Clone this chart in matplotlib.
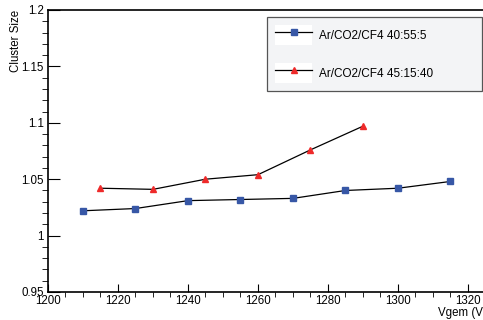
import matplotlib
matplotlib.use("Agg")
import matplotlib.pyplot as plt
from matplotlib.patches import Rectangle
from matplotlib.legend_handler import HandlerTuple
from matplotlib.lines import Line2D
from matplotlib.ticker import MultipleLocator

plt.rcParams["font.family"] = ["Liberation Sans", "DejaVu Sans"]

# Dades llegides del gràfic
v_a = [1210, 1225, 1240, 1255, 1270, 1285, 1300, 1315]
cs_a = [1.022, 1.024, 1.031, 1.032, 1.033, 1.040, 1.042, 1.048]
v_b = [1215, 1230, 1245, 1260, 1275, 1290]
cs_b = [1.042, 1.041, 1.050, 1.054, 1.076, 1.097]
noms = ["Ar/CO2/CF4 40:55:5", "Ar/CO2/CF4 45:15:40"]

blau = "#3757a6"
vermell = "#ee2a2a"

fig = plt.figure(figsize=(4.83, 3.2), dpi=100)
ax = fig.add_axes([48 / 483, 1 - 292 / 320, 1 - 48 / 483, (292 - 10) / 320])

ax.plot(v_a, cs_a, color="black", lw=0.9, marker="s", ms=4,
        mfc=blau, mec=blau)
ax.plot(v_b, cs_b, color="black", lw=0.9, marker="^", ms=4,
        mfc=vermell, mec=vermell)

ax.set_xlim(1200, 1324.3)
ax.set_ylim(0.95, 1.2)
ax.xaxis.set_major_locator(MultipleLocator(20))
ax.xaxis.set_minor_locator(MultipleLocator(5))
ax.yaxis.set_major_locator(MultipleLocator(0.05))
ax.yaxis.set_minor_locator(MultipleLocator(0.01))
ax.yaxis.set_major_formatter(lambda v, p: f"{v:g}")

for s in ["left", "bottom", "top"]:
    ax.spines[s].set_linewidth(1.2)
ax.spines["right"].set_visible(False)

ax.tick_params(axis="both", direction="in", width=0.8, labelsize=8.3)
ax.tick_params(axis="y", which="major", length=8.9, pad=3)
ax.tick_params(axis="y", which="minor", length=4.5)
ax.tick_params(axis="x", which="major", length=6, pad=2)
ax.tick_params(axis="x", which="minor", length=3.4)

fig.text(16 / 483, 1 - 10 / 320, "Cluster Size", rotation=90,
         ha="center", va="top", fontsize=8.3)
fig.text(438 / 483, 1 - 313 / 320, "Vgem (V)", ha="left", va="center",
         fontsize=8.3)

# Llegenda amb fons blanc darrere de cada símbol
fons = [Rectangle((0, 0), 1, 1, facecolor="white", edgecolor="none")
        for _ in noms]
h_a = Line2D([], [], color="black", lw=0.9, marker="s", ms=4,
             mfc=blau, mec=blau)
h_b = Line2D([], [], color="black", lw=0.9, marker="^", ms=4,
             mfc=vermell, mec=vermell)
leg = ax.legend([(fons[0], h_a), (fons[1], h_b)], noms,
                handler_map={tuple: HandlerTuple(ndivide=1, pad=0)},
                loc="upper left", mode="expand",
                bbox_to_anchor=(267 / 483, 1 - 91 / 320, 215 / 483, 74 / 320),
                bbox_transform=fig.transFigure, fontsize=8.5,
                handlelength=3.1, handleheight=2.2, handletextpad=0.6,
                labelspacing=1.55, borderpad=0.7, borderaxespad=0,
                fancybox=False, framealpha=1, facecolor="#f3f4f6",
                edgecolor="#555555")
leg.get_frame().set_linewidth(0.9)

fig.savefig("out.png", dpi=100)
